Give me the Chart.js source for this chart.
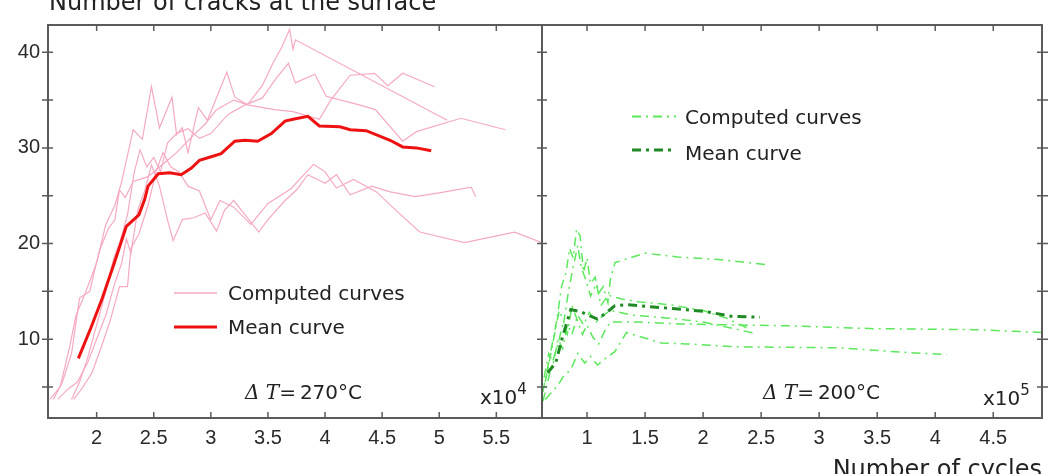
<!DOCTYPE html>
<html>
<head>
  <title>Number of cracks at the surface</title>
  <script src="https://cdn.jsdelivr.net/npm/chart.js"></script>
  <style>
    body {
      margin: 0;
      background-color: #ffffff;
      font-family: "DejaVu Sans", sans-serif;
      color: #222;
    }
    #wrap {
      position: relative;
      width: 1057px;
      height: 474px;
      overflow: hidden;
    }
    .box { position: absolute; top: 0; height: 474px; }
    .txt {
      position: absolute;
      white-space: nowrap;
      font-size: 20px;
      line-height: 20px;
    }
    .big { font-size: 24px; line-height: 24px; }
    .math { font-family: "DejaVu Serif", serif; font-style: italic; }
    .sup { font-size: 15px; position: relative; top: -10px; }
    svg { position: absolute; overflow: visible; }
  </style>
</head>
<body>
<div id="wrap">
  <div class="box" style="left:0;width:543px"><canvas id="left"></canvas></div>
  <div class="box" style="left:541px;width:516px"><canvas id="right"></canvas></div>

  <div class="txt big" style="left:49px;top:-10px">Number of cracks at the surface</div>
  <div class="txt big" style="right:15px;top:457px">Number of cycles</div>

  <svg style="left:174px;top:292px" width="44" height="2"><line x1="0" y1="1" x2="43" y2="1" stroke="#f5a9c3" stroke-width="1.5"/></svg>
  <div class="txt" style="left:228px;top:283px">Computed curves</div>
  <svg style="left:174px;top:325px" width="44" height="4"><line x1="0" y1="2" x2="43" y2="2" stroke="#ee1111" stroke-width="3"/></svg>
  <div class="txt" style="left:228px;top:317px">Mean curve</div>

  <svg style="left:632px;top:115px" width="44" height="3"><line x1="0" y1="1.5" x2="44" y2="1.5" stroke="#5be85b" stroke-width="2" stroke-dasharray="9 5 2 5"/></svg>
  <div class="txt" style="left:685px;top:107px">Computed curves</div>
  <svg style="left:632px;top:148px" width="44" height="4"><line x1="0" y1="2" x2="44" y2="2" stroke="#1f8a24" stroke-width="3" stroke-dasharray="9 5 3 5"/></svg>
  <div class="txt" style="left:685px;top:143px">Mean curve</div>

  <div class="txt" style="left:245px;top:382px"><span class="math">Δ T</span>=&#8201;270°C</div>
  <div class="txt" style="left:763px;top:382px"><span class="math">Δ T</span>=&#8201;200°C</div>
  <div class="txt" style="left:480px;top:387px">x10<span class="sup">4</span></div>
  <div class="txt" style="left:983px;top:388px">x10<span class="sup">5</span></div>
</div>

<script>
  // ---- tick values ----
  var leftXTicks = [2, 2.5, 3, 3.5, 4, 4.5, 5, 5.5];
  var rightXTicks = [1, 1.5, 2, 2.5, 3, 3.5, 4, 4.5];
  var yTicks = [5, 10, 15, 20, 25, 30, 35, 40];
  var yLabelled = [10, 20, 30, 40];

  // ---- ΔT = 270°C, cycles x10^4 ----
  var redMean = [[1.84,8.0],[1.95,11.2],[2.05,14.3],[2.15,17.8],[2.26,21.8],[2.37,23.0],[2.42,24.6],[2.45,26.0],[2.54,27.3],[2.64,27.4],[2.74,27.2],[2.83,27.9],[2.90,28.7],[3.01,29.1],[3.09,29.4],[3.21,30.7],[3.30,30.8],[3.41,30.7],[3.53,31.5],[3.65,32.8],[3.72,33.0],[3.85,33.3],[3.95,32.3],[4.13,32.2],[4.22,31.9],[4.36,31.8],[4.57,30.8],[4.68,30.1],[4.80,30.0],[4.93,29.7]];
  var pink1 = [[1.62,3.7],[1.7,5.5],[1.78,8.5],[1.85,14.3],[1.94,15.0],[1.99,17.6],[2.03,19.4],[2.1,21.5],[2.16,22.5],[2.2,25.6],[2.25,24.8],[2.32,26.5],[2.45,27.0],[2.6,28.5],[2.7,29.5],[2.82,31],[2.95,32.5],[3.05,34],[3.2,35],[3.32,34.5],[3.45,36.5],[3.55,39],[3.62,40.5],[3.69,42.4],[3.72,40.3],[3.74,41.3],[5.07,32.9]];
  var pink2 = [[1.78,3.7],[1.85,5.5],[1.92,8],[2.0,11.5],[2.08,15],[2.15,18.5],[2.2,20],[2.27,23],[2.33,27.5],[2.38,29.8],[2.44,28.0],[2.5,29.0],[2.56,27.5],[2.62,30.5],[2.7,31.5],[2.8,32],[2.9,31],[3.0,31.5],[3.15,33.5],[3.3,34.5],[3.45,35.2],[3.58,37.4],[3.68,38.85],[3.74,36.8],[3.91,37.7],[4.01,35.4],[4.3,34.5],[4.44,34.0],[4.68,30.7],[4.8,31.7],[5.19,33.1],[5.58,31.9]];
  var pink3 = [[1.59,3.7],[1.68,5.0],[1.76,9.0],[1.82,12.5],[1.9,14.8],[2.0,18],[2.08,22],[2.16,24],[2.22,26.5],[2.32,31.9],[2.40,30.9],[2.48,36.4],[2.55,32.1],[2.66,35.3],[2.70,31.4],[2.75,32.1],[2.80,29.5],[2.89,34.2],[2.97,32.9],[3.14,37.9],[3.21,35.3],[3.32,34.5],[3.56,34.0],[3.72,33.8],[3.95,33.0],[4.05,35.0],[4.22,37.6],[4.435,37.8],[4.55,36.5],[4.68,37.8],[4.96,36.4]];
  var pink4 = [[1.66,3.7],[1.75,4.8],[1.83,5.5],[1.92,7.5],[2.0,10],[2.08,12.5],[2.15,15.5],[2.22,18],[2.26,20.5],[2.3,19],[2.36,23.5],[2.42,25.5],[2.48,28.2],[2.55,26],[2.62,22.5],[2.67,20.3],[2.75,22.5],[2.85,22.7],[2.95,23.2],[3.05,21.3],[3.12,23.5],[3.2,24.5],[3.3,23],[3.42,21.2],[3.5,22.5],[3.65,24.5],[3.75,25.6],[3.85,27.2],[4.0,26.3],[4.1,27.2],[4.22,25.1],[4.41,26.0],[4.57,25.4],[4.79,24.9],[5.0,25.3],[5.28,25.9],[5.32,24.9]];
  var pink5 = [[1.8,3.7],[1.88,5],[1.96,6.5],[2.05,9.5],[2.12,12],[2.2,15.5],[2.27,15.5],[2.3,19.5],[2.37,21],[2.45,24],[2.52,27.5],[2.58,29.5],[2.65,28],[2.72,27.5],[2.8,26],[2.9,25.5],[3.0,22.5],[3.08,24.5],[3.2,23.8],[3.35,22.0],[3.5,24.2],[3.7,25.7],[3.9,28.3],[4.0,27.5],[4.1,25.8],[4.25,26.7],[4.45,25.4],[4.6,23.7],[4.83,21.2],[5.22,20.1],[5.66,21.2],[5.9,20.1]];

  // ---- ΔT = 200°C, cycles x10^5 ----
  var greenMean = [[0.66,6.5],[0.73,7.5],[0.79,10.3],[0.86,13.1],[0.94,12.9],[1.03,12.4],[1.09,12.1],[1.16,12.7],[1.24,13.5],[1.35,13.6],[1.64,13.3],[2.02,12.9],[2.24,12.4],[2.49,12.3]];
  var green1 = [[0.62,4.5],[0.66,7],[0.7,9.5],[0.74,12],[0.78,15.5],[0.82,17],[0.85,19.5],[0.88,18.5],[0.91,21.5],[0.94,20.8],[0.97,17.0],[1.0,18.5],[1.03,15.8],[1.07,16.5],[1.1,14.8],[1.14,15.5],[1.18,13.8],[1.2,16.2],[1.24,18.0],[1.5,19.0],[1.78,18.6],[2.16,18.3],[2.54,17.8]];
  var green2 = [[0.64,5.5],[0.68,8],[0.72,10.5],[0.76,13],[0.8,11.8],[0.84,15],[0.88,17.5],[0.92,19.8],[0.95,17.5],[0.99,16.2],[1.03,14.5],[1.08,15.8],[1.12,13.5],[1.18,14.6],[1.3,14.2],[1.45,13.9],[1.72,13.6],[2.0,13.0],[2.2,12.2],[2.41,11.0]];
  var green3 = [[0.62,3.5],[0.66,5.5],[0.7,7.5],[0.75,9.5],[0.79,11.5],[0.83,10.5],[0.87,13.5],[0.91,12.2],[0.96,10.5],[1.0,11.5],[1.05,10.2],[1.1,9.5],[1.15,10.8],[1.2,11.8],[1.44,11.8],[1.8,11.6],[2.2,11.5],[2.73,11.4],[3.47,11.1],[4.33,11.0],[4.92,10.7]];
  var green4 = [[0.64,3.7],[0.7,4.5],[0.75,5.2],[0.8,6.2],[0.86,6.8],[0.92,8.5],[0.98,7.5],[1.03,8.2],[1.09,7.3],[1.16,8.0],[1.24,8.7],[1.34,10.7],[1.64,9.6],[1.87,9.5],[2.3,9.2],[3.18,9.1],[3.76,8.6],[4.10,8.4]];
  var green5 = [[0.63,6.0],[0.67,8.5],[0.71,7.5],[0.75,10],[0.79,9],[0.83,11.5],[0.87,10.5],[0.92,12.5],[0.97,11.5],[1.02,12.8],[1.08,11.8],[1.14,12.5],[1.2,13.0],[1.4,12.5],[1.7,12.2],[2.0,11.8],[2.3,11.0],[2.45,10.6]];

  function pts(a) {
    return a.map(function (p) { return { x: p[0], y: p[1] }; });
  }

  function curve(a, color, width, dash) {
    return {
      data: pts(a),
      borderColor: color,
      borderWidth: width,
      borderDash: dash || [],
      pointRadius: 0,
      tension: 0,
      fill: false
    };
  }

  // frame with inward ticks, drawn from the scales
  var framePlugin = {
    id: "frame",
    afterDraw: function (chart) {
      var ctx = chart.ctx, a = chart.chartArea;
      var x = chart.scales.x, y = chart.scales.y;
      ctx.save();
      ctx.strokeStyle = "#5a5a5a";
      ctx.lineWidth = 2;
      ctx.strokeRect(a.left, a.top, a.right - a.left, a.bottom - a.top);
      ctx.lineWidth = 1.5;
      ctx.beginPath();
      x.ticks.forEach(function (t) {
        var px = x.getPixelForValue(t.value);
        ctx.moveTo(px, a.bottom); ctx.lineTo(px, a.bottom - 6);
        ctx.moveTo(px, a.top); ctx.lineTo(px, a.top + 6);
      });
      y.ticks.forEach(function (t) {
        var py = y.getPixelForValue(t.value);
        ctx.moveTo(a.left - 6, py); ctx.lineTo(a.left + 5, py);
        ctx.moveTo(a.right - 5, py); ctx.lineTo(a.right + 6, py);
      });
      ctx.stroke();
      ctx.restore();
    }
  };

  var tickFont = { family: "Liberation Sans", size: 20 };

  function makeChart(id, datasets, xmin, xmax, xTicks, yWidth, showY, padRight) {
    return new Chart(document.getElementById(id), {
      type: "line",
      data: { datasets: datasets },
      options: {
        responsive: true,
        maintainAspectRatio: false,
        animation: false,
        layout: { padding: { top: 25, right: padRight, left: 0, bottom: 0 } },
        plugins: { legend: { display: false }, tooltip: { enabled: false } },
        scales: {
          x: {
            type: "linear",
            min: xmin,
            max: xmax,
            grid: { display: false, drawTicks: false },
            border: { display: false },
            afterBuildTicks: function (s) { s.ticks = xTicks.map(function (v) { return { value: v }; }); },
            afterFit: function (s) { s.height = 56; },
            ticks: {
              padding: 8,
              color: "#2a2a2a",
              font: tickFont,
              maxRotation: 0,
              autoSkip: false,
              callback: function (v) { return String(v); }
            }
          },
          y: {
            type: "linear",
            min: 1.76,
            max: 42.85,
            grid: { display: false, drawTicks: false },
            border: { display: false },
            afterBuildTicks: function (s) { s.ticks = yTicks.map(function (v) { return { value: v }; }); },
            afterFit: function (s) { s.width = yWidth; },
            ticks: {
              display: showY,
              padding: 8,
              color: "#2a2a2a",
              font: tickFont,
              autoSkip: false,
              callback: function (v) { return yLabelled.indexOf(v) >= 0 ? String(v) : ""; }
            }
          }
        }
      },
      plugins: [framePlugin]
    });
  }

  var pink = "#f5a9c3";
  var light = "#5be85b";
  var dashDot = [9, 5, 2, 5];

  makeChart("left", [
    curve(redMean, "#ee1111", 3),
    curve(pink1, pink, 1.2),
    curve(pink2, pink, 1.2),
    curve(pink3, pink, 1.2),
    curve(pink4, pink, 1.2),
    curve(pink5, pink, 1.2)
  ], 1.574, 5.9, leftXTicks, 48, true, 1);

  makeChart("right", [
    curve(greenMean, "#1f8a24", 3, [9, 5, 3, 5]),
    curve(green1, light, 1.5, dashDot),
    curve(green2, light, 1.5, dashDot),
    curve(green3, light, 1.5, dashDot),
    curve(green4, light, 1.5, dashDot),
    curve(green5, light, 1.5, dashDot)
  ], 0.612, 4.92, rightXTicks, 1, false, 15);
</script>
</body>
</html>
